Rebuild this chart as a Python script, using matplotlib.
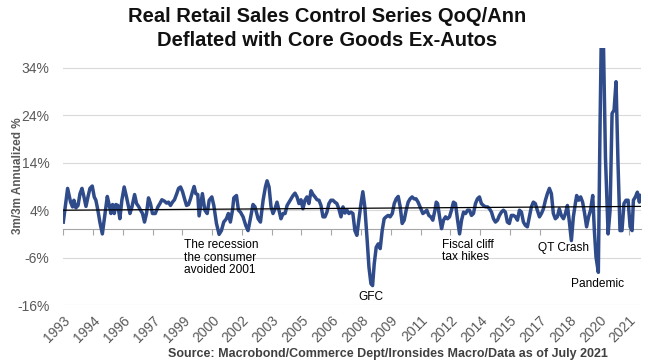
import numpy as np
import matplotlib.pyplot as plt

# months since the first observation, and the 3m/3m annualized value (%)
months = [
    0.0, 2.6, 4.4, 5.6, 6.4, 7.6, 8.9, 10.1, 11.3, 12.5, 13.7, 14.9, 16.1, 17.5,
    18.7, 19.7, 20.9, 22.1, 23.6, 24.8, 26.6, 27.8, 28.8, 29.8, 30.8, 31.8, 33.0,
    34.2, 35.4, 36.8, 38.2, 39.3, 40.3, 41.5, 43.1, 44.3, 45.5, 46.7, 47.9, 49.1,
    50.3, 51.5, 52.7, 53.9, 55.6, 57.2, 58.4, 59.6, 61.2, 62.4, 63.6, 64.8, 66.0,
    67.2, 68.4, 69.7, 70.9, 72.1, 73.3, 74.5, 75.7, 76.9, 78.1, 79.1, 80.1, 81.3,
    82.1, 84.1, 85.6, 87.0, 88.2, 89.8, 91.0, 92.6, 94.2, 95.6, 97.0, 98.6, 99.8,
    101.0, 102.3, 103.1, 104.7, 105.9, 107.1, 108.7, 110.3, 111.7, 113.1, 114.7,
    115.9, 117.8, 119.2, 120.8, 122.2, 123.2, 124.4, 125.6, 126.8, 128.0, 129.2,
    130.4, 131.6, 132.9, 134.1, 135.3, 136.5, 137.7, 138.9, 140.1, 141.3, 142.5,
    143.7, 144.9, 146.1, 147.3, 148.5, 149.8, 151.0, 152.2, 153.4, 154.6, 155.8,
    157.0, 158.2, 159.4, 160.6, 161.8, 163.0, 164.2, 165.4, 166.6, 167.9, 169.1,
    170.3, 171.5, 172.7, 173.9, 175.1, 176.3, 177.5, 178.7, 179.9, 181.1, 182.3,
    183.6, 184.8, 186.0, 187.0, 188.0, 189.2, 190.4, 191.6, 192.8, 194.0, 195.2,
    196.4, 197.6, 198.9, 200.1, 201.3, 202.5, 203.7, 204.9, 206.1, 207.3, 208.5,
    209.7, 210.9, 212.1, 213.3, 214.5, 216.2, 217.4, 218.6, 219.8, 221.0, 222.2,
    223.4, 224.7, 225.5, 226.3, 227.5, 228.7, 229.9, 231.1, 232.3, 233.5, 234.7,
    235.9, 237.1, 238.4, 239.6, 240.8, 242.0, 243.2, 244.4, 245.6, 246.8, 248.0,
    249.2, 250.4, 251.6, 252.8, 254.0, 255.3, 256.5, 257.7, 258.9, 260.1, 261.3,
    262.5, 263.7, 264.9, 266.1, 267.3, 268.5, 269.7, 270.9, 272.2, 273.4, 274.6,
    275.8, 277.0, 278.2, 279.4, 280.6, 281.8, 283.0, 284.2, 285.4, 286.6, 287.9,
    289.1, 290.3, 291.5, 292.7, 293.9, 295.1, 296.3, 297.5, 298.7, 299.9, 301.1,
    302.4, 303.6, 304.8, 306.0, 307.2, 308.4, 309.6, 310.4, 311.6, 312.8, 314.0,
    315.2, 316.4, 317.6, 318.8, 320.1, 321.1, 322.1, 323.5, 324.5, 325.3, 326.5,
    327.8, 329.4, 330.6, 331.8, 333.0, 334.2, 335.4, 336.6, 337.8, 339.0, 340.2,
    341.5, 342.7, 343.9, 344.7, 345.9, 347.1, 348.3, 349.1,
]
values = [
    1.5, 8.6, 5.7, 4.7, 6.1, 4.5, 5.0, 7.5, 8.6, 6.8, 4.8, 6.8, 8.6, 9.1,
    6.8, 6.1, 4.0, 1.5, -1.0, 2.2, 6.9, 5.0, 3.3, 5.2, 3.3, 5.2, 5.0,
    2.2, 6.1, 8.9, 6.8, 5.0, 3.3, 4.7, 7.3, 5.4, 4.8, 4.0, 3.3, 1.5,
    3.3, 6.6, 5.4, 3.3, 3.3, 4.7, 5.4, 6.2, 5.9, 5.5, 5.7, 5.0, 5.7,
    6.2, 7.3, 8.6, 8.9, 7.9, 6.4, 5.0, 5.2, 6.4, 7.9, 9.0, 7.5, 7.3,
    2.8, 7.5, 4.0, 3.3, 6.1, 6.8, 5.0, 1.2, -1.1, -0.3, 1.5, 2.2, 3.3,
    1.5, 4.0, 6.6, 7.1, 4.0, 3.6, 2.6, 0.8, -0.3, 2.2, 5.2,
    4.7, 2.2, 1.5, 6.1, 8.9, 10.2, 8.9, 4.7, 3.3, 4.3, 5.7,
    4.0, 2.2, 3.3, 3.3, 5.0, 5.7, 6.4, 7.1, 7.6, 6.8, 5.4,
    6.2, 4.3, 6.1, 6.8, 5.4, 8.1, 7.3, 6.8, 6.2, 6.1, 5.0,
    2.6, 2.6, 3.6, 5.4, 6.1, 6.1, 5.7, 5.4, 4.3, 2.6, 4.7,
    3.4, 4.0, 3.3, 3.6, 3.3, -0.3, -1.3, 1.9, 5.2, 7.9, 4.7,
    -1.7, -8.0, -11.5, -11.9, -7.3, -3.8, -3.1, -4.1, -0.3, 2.2, 2.6,
    2.9, 2.6, 3.3, 5.4, 6.4, 6.9, 4.7, 1.2, 1.9, 4.0, 5.7,
    6.4, 6.8, 6.4, 6.4, 5.7, 4.3, 3.3, 3.6, 4.0, 2.9, 2.6,
    1.9, 4.0, 5.7, 5.4, 2.6, 0.1, 1.9, 2.6, 2.2, 2.6, 4.0,
    5.7, 5.4, 1.9, -1.0, 1.9, 3.6, 3.3, 4.0, 4.0, 2.9, 3.3,
    5.4, 6.4, 6.8, 5.4, 5.0, 4.7, 4.7, 4.3, 3.6, 2.2, 1.5,
    1.9, 2.9, 3.6, 4.0, 3.6, 1.5, 1.2, 2.9, 2.9, 2.6, 1.9,
    4.0, 3.6, 1.5, 0.8, 0.5, 2.6, 4.7, 5.7, 5.4, 4.0, 2.6,
    3.3, 4.3, 6.1, 7.5, 8.6, 7.5, 3.3, 2.2, 2.6, 4.3, 2.9,
    2.2, 3.3, 5.0, 1.5, -2.4, 2.6, 5.4, 7.1, 6.1, 6.8, 5.7,
    3.3, 0.5, 2.6, 4.0, 7.1, -0.3, -5.9, -9.1, 20.9, 41.0, 41.0,
    15.2, -1.0, 4.0, 24.4, 25.1, 31.1, 13.8, -0.3, -0.3, 5.4, 6.1,
    6.1, 0.5, -0.3, 6.1, 6.8, 7.8, 5.7, 7.1,
]

# linear trend line end points (%)
trend_start = 4.0
trend_end = 4.8

tick_months = list(range(0, 343, 18))
tick_labels = ['1993', '1994', '1996', '1997', '1999', '2000', '2002', '2003',
               '2005', '2006', '2008', '2009', '2011', '2012', '2014', '2015',
               '2017', '2018', '2020', '2021']
y_ticks = [-16, -6, 4, 14, 24, 34]

notes = ['The recession\nthe consumer\navoided 2001', 'GFC',
         'Fiscal cliff\ntax hikes', 'QT Crash', 'Pandemic']
note_x = [72.9, 186.1, 229.1, 287.3, 307.0]
note_y = [-6.0, -14.4, -4.65, -3.9, -11.5]
note_ha = ['left', 'center', 'left', 'left', 'left']

plt.rcParams['font.family'] = ['Liberation Sans', 'DejaVu Sans']
narrow = ['Liberation Sans Narrow', 'Liberation Sans']

fig = plt.figure(figsize=(6.48, 3.64), dpi=100)
ax = fig.add_axes([0.0977, 0.162, 0.891, 0.706])

ax.plot(months, values, color='#2F4B8A', lw=2.5, solid_joinstyle='round', zorder=3)
ax.plot([months[0], months[-1]], [trend_start, trend_end], color='black', lw=0.9, zorder=4)

ax.set_xlim(months[0], months[-1])
ax.set_ylim(-16, 38.2)

ax.set_yticks(y_ticks)
ax.set_yticklabels([f'{v}%' for v in y_ticks])
ax.yaxis.grid(True, color='#D9D9D9', lw=0.8)
ax.set_axisbelow(True)
ax.tick_params(axis='y', length=0, labelsize=10, labelcolor='#595959', pad=10)

for s in ['top', 'right', 'left']:
    ax.spines[s].set_visible(False)
ax.spines['bottom'].set_position(('data', 0))
ax.spines['bottom'].set_color('#A6A6A6')
ax.set_xticks(tick_months)
ax.tick_params(axis='x', length=4, color='#A6A6A6', labelbottom=False, direction='out')

sec = ax.secondary_xaxis(0.0)
sec.set_xticks(tick_months)
sec.set_xticklabels(tick_labels, rotation=45, ha='right', rotation_mode='anchor',
                    color='#595959', fontsize=10, family=narrow)
sec.tick_params(length=0, pad=6)
sec.spines['bottom'].set_visible(False)

for t, x, y, ha in zip(notes, note_x, note_y, note_ha):
    ax.text(x, y, t, ha=ha, va='center', fontsize=8.6, color='black', linespacing=1.05)

fig.text(18 / 648, 1 - 176 / 364, '3m/3m Annualized %', rotation=90, ha='center', va='center',
         fontsize=8.5, fontweight='bold', color='#595959')

fig.text(0.505, 1 - 16 / 364, 'Real Retail Sales Control Series QoQ/Ann', ha='center', va='center',
         fontsize=14.5, fontweight='bold', color='#111111')
fig.text(0.505, 1 - 40 / 364, 'Deflated with Core Goods Ex-Autos', ha='center', va='center',
         fontsize=14.5, fontweight='bold', color='#111111')

fig.text(388 / 648, 1 - 354 / 364, 'Source: Macrobond/Commerce Dept/Ironsides Macro/Data as of July 2021',
         ha='center', va='center', fontsize=9, fontweight='bold', color='#404040', family=narrow)

fig.savefig('out.png', dpi=100)
